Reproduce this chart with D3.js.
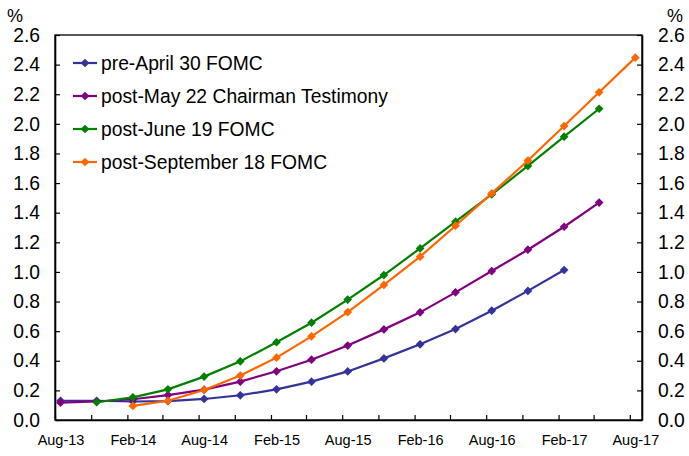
<!DOCTYPE html>
<html>
<head>
<meta charset="utf-8">
<script src="https://cdn.jsdelivr.net/npm/d3@7"></script>
<style>
    body { margin: 0; background: #fff; }
    svg { font-family: "Liberation Sans", Arial, sans-serif; }
</style>
</head>
<body>
<div id="wrapper"></div>
<script>
// quarterly observation months
const quarters = ["Aug-13", "Nov-13", "Feb-14", "May-14", "Aug-14", "Nov-14", "Feb-15", "May-15",
    "Aug-15", "Nov-15", "Feb-16", "May-16", "Aug-16", "Nov-16", "Feb-17", "May-17", "Aug-17"];

// expected path, %
const preApril = [0.13, 0.13, 0.125, 0.128, 0.142, 0.167, 0.207, 0.259, 0.328, 0.416, 0.511, 0.614, 0.738, 0.872, 1.013, null, null];
const postMay = [0.117, 0.125, 0.14, 0.168, 0.205, 0.259, 0.329, 0.407, 0.503, 0.612, 0.727, 0.862, 1.006, 1.15, 1.305, 1.468, null];
const postJune = [null, 0.12, 0.153, 0.207, 0.293, 0.396, 0.525, 0.657, 0.813, 0.979, 1.159, 1.339, 1.523, 1.716, 1.913, 2.102, null];
const postSept = [null, null, 0.095, 0.13, 0.203, 0.30, 0.421, 0.565, 0.729, 0.912, 1.103, 1.312, 1.53, 1.752, 1.985, 2.213, 2.447];

const seriesNames = ["pre-April 30 FOMC", "post-May 22 Chairman Testimony", "post-June 19 FOMC", "post-September 18 FOMC"];
const seriesColors = ["#333399", "#800080", "#008000", "#ff6600"];

const xLabels = ["Aug-13", "Feb-14", "Aug-14", "Feb-15", "Aug-15", "Feb-16", "Aug-16", "Feb-17", "Aug-17"];
const yTicks = [0, 0.2, 0.4, 0.6, 0.8, 1.0, 1.2, 1.4, 1.6, 1.8, 2.0, 2.2, 2.4, 2.6];

const dimension = {
    width: 689,
    height: 456,
    margin: { top: 35, left: 55, bottom: 36, right: 47 }
};
dimension.boundedWidth = dimension.width - dimension.margin.left - dimension.margin.right;
dimension.boundedHeight = dimension.height - dimension.margin.top - dimension.margin.bottom;

const parseMonth = d3.timeParse("%b-%y");
const midMonth = s => d3.timeDay.offset(parseMonth(s), 14);

const svg = d3.select("#wrapper")
    .append("svg")
    .attr("width", dimension.width)
    .attr("height", dimension.height);

const bounds = svg.append("g")
    .attr("transform", `translate(${dimension.margin.left},${dimension.margin.top})`);

// date axis runs from start of Aug-13 to end of Aug-17
const xScaler = d3.scaleTime()
    .domain([parseMonth("Aug-13"), parseMonth("Sep-17")])
    .range([0, dimension.boundedWidth]);

const yScaler = d3.scaleLinear()
    .domain([0, 2.6])
    .range([dimension.boundedHeight, 0]);

// plot frame
bounds.append("rect")
    .attr("width", dimension.boundedWidth)
    .attr("height", dimension.boundedHeight)
    .attr("fill", "none")
    .attr("stroke", "#000")
    .attr("stroke-width", 1.3);

function styleAxis(g, size) {
    g.attr("font-family", null).attr("font-size", size);
    g.selectAll("text").attr("fill", "#000");
    g.selectAll("line").attr("stroke", "#000").attr("stroke-width", 1.2);
    g.select(".domain").attr("stroke", "#000").attr("stroke-width", 1.6);
}

// y axes, ticks inside
const yLeft = bounds.append("g")
    .call(d3.axisLeft(yScaler).tickValues(yTicks).tickFormat(d3.format(".1f"))
        .tickSizeInner(-5).tickSizeOuter(0).tickPadding(15))
    .call(styleAxis, "19.3px");

const yRight = bounds.append("g")
    .attr("transform", `translate(${dimension.boundedWidth},0)`)
    .call(d3.axisRight(yScaler).tickValues(yTicks).tickFormat(d3.format(".1f"))
        .tickSizeInner(-5).tickSizeOuter(0).tickPadding(16))
    .call(styleAxis, "19.3px");

// x axis: quarterly tick marks, labels every six months
const xTicks = bounds.append("g")
    .attr("transform", `translate(0,${dimension.boundedHeight})`)
    .call(d3.axisBottom(xScaler).tickValues(quarters.map(parseMonth)).tickFormat("")
        .tickSizeInner(-5).tickSizeOuter(0))
    .call(styleAxis, "14.5px");

const xAxisLabels = bounds.append("g")
    .attr("transform", `translate(0,${dimension.boundedHeight})`)
    .call(d3.axisBottom(xScaler).tickValues(xLabels.map(midMonth)).tickFormat(d3.timeFormat("%b-%y"))
        .tickSize(0).tickPadding(15))
    .call(styleAxis, "14.5px");
xAxisLabels.select(".domain").remove();

// unit labels
svg.append("text").attr("x", 15).attr("y", 22).attr("text-anchor", "middle")
    .attr("font-size", "18px").text("%");
svg.append("text").attr("x", 675).attr("y", 22).attr("text-anchor", "middle")
    .attr("font-size", "18px").text("%");

// lines and markers
const allSeries = [preApril, postMay, postJune, postSept].map((values, i) => ({
    name: seriesNames[i],
    color: seriesColors[i],
    points: quarters.map((q, j) => ({ date: midMonth(q), value: values[j] }))
        .filter(d => d.value !== null)
}));

const lineGen = d3.line()
    .x(d => xScaler(d.date))
    .y(d => yScaler(d.value));

const diamond = d3.symbol().type(d3.symbolSquare).size(38);

const seriesGroups = bounds.selectAll(".series")
    .data(allSeries)
    .enter()
    .append("g");

seriesGroups.append("path")
    .attr("d", d => lineGen(d.points))
    .attr("fill", "none")
    .attr("stroke", d => d.color)
    .attr("stroke-width", 2.2);

seriesGroups.each(function (s) {
    d3.select(this).selectAll("path.marker")
        .data(s.points)
        .enter()
        .append("path")
        .attr("class", "marker")
        .attr("d", diamond)
        .attr("transform", d => `translate(${xScaler(d.date)},${yScaler(d.value)}) rotate(45)`)
        .attr("fill", s.color);
});

// legend
const legend = svg.append("g");
const legendRows = legend.selectAll("g")
    .data(allSeries)
    .enter()
    .append("g")
    .attr("transform", (d, i) => `translate(73,${63 + i * 33})`);

legendRows.append("line")
    .attr("x1", 0).attr("x2", 24)
    .attr("stroke", d => d.color)
    .attr("stroke-width", 2.2);

legendRows.append("path")
    .attr("d", diamond)
    .attr("transform", "translate(12,0) rotate(45)")
    .attr("fill", d => d.color);

legendRows.append("text")
    .attr("x", 28)
    .attr("dy", "0.35em")
    .attr("font-size", "19.3px")
    .text(d => d.name);
</script>
</body>
</html>
